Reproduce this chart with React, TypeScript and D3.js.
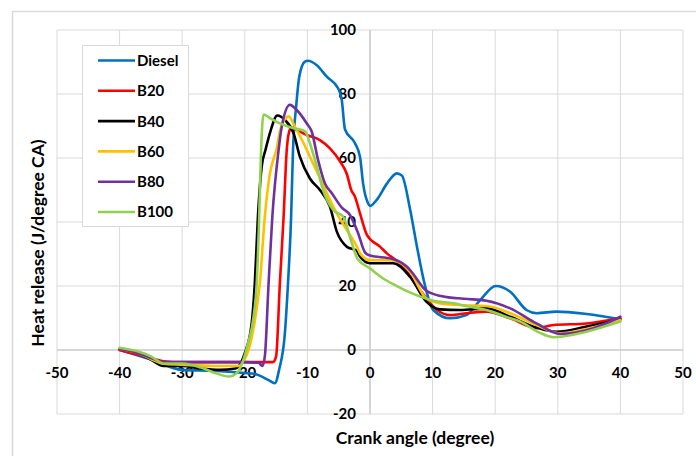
import React from "react";
import * as d3 from "d3";

const seriesNames = ["Diesel", "B20", "B40", "B60", "B80", "B100"];
const seriesColors = ["#0070C0", "#FF0000", "#000000", "#FFC000", "#7030A0", "#92D050"];

const diesel: [number, number][] = [
  [-40, 0], [-35, -3], [-30, -6.2], [-25, -6.5], [-20, -7.2], [-18.4, -7.5], [-16.2, -9.4], [-15.2, -10.4],
  [-14.5, -6], [-13.6, 5.2], [-13.1, 20.8], [-12.6, 41.7], [-12.3, 62.5], [-11.8, 76], [-11.3, 85.4],
  [-10.4, 90.1], [-9.9, 90.4], [-8.5, 89], [-6.9, 85.4], [-5.1, 81.8], [-4.5, 78], [-4, 69],
  [-2.4, 64.6], [-1.6, 60.4], [-1.1, 52], [-0.3, 45.8], [0, 45], [1.1, 47], [2.7, 52], [4.3, 55.2],
  [5.1, 54.5], [6.4, 44], [7.5, 32.3], [8.8, 20], [10.1, 12.5], [12.8, 9.9], [15.4, 10.9],
  [17.6, 15.6], [20.1, 20], [22.4, 18.2], [25, 12.5], [26.6, 11.5], [29.8, 12], [34.6, 11.25],
  [40, 9.6],
];

const b20: [number, number][] = [
  [-40, 0], [-37, -1.5], [-35, -2.5], [-33, -3.5], [-30, -3.8], [-25, -3.8], [-20, -3.8], [-15.5, -3.8],
  [-15, -2], [-14.4, 20.8], [-13.8, 41.7], [-13.3, 62.5], [-13, 67.5], [-12.6, 69.5], [-11.7, 68.8],
  [-10.1, 67.2], [-8, 65.6], [-6.4, 63], [-4.8, 59], [-3.7, 55], [-3.0, 50], [-2.4, 47.9],
  [-1.6, 42.7], [-0.5, 36], [1.6, 32.3], [2.7, 30.2], [4.8, 27], [5.5, 25.5], [7.5, 20], [8, 18.75],
  [10.7, 12.5], [12.8, 10.9], [15.5, 11.5], [18.6, 12], [22.4, 9.9], [26.6, 6.8], [29.3, 7.8],
  [34.6, 8.3], [40, 9.9],
];

const b40: [number, number][] = [
  [-40, 0.3], [-37, -1], [-35, -3], [-33, -5], [-30, -5], [-27, -5.8], [-24, -6.2], [-21.5, -5.8],
  [-20.5, -3.5], [-20, -1], [-18.9, 8.3], [-18.4, 20.8], [-17.9, 41.7], [-17.3, 57.3], [-16.7, 62.5],
  [-16, 67.7], [-14.8, 73.3], [-13.6, 71.9], [-12.2, 67.7], [-11.2, 60.4], [-9.6, 53.6], [-8, 50],
  [-6.4, 44.8], [-5.3, 37], [-3.7, 32.3], [-2.1, 31], [-1.6, 29.2], [0, 27.1], [3.7, 27.1],
  [6.4, 22.9], [9, 15.1], [11.2, 12.7], [14.4, 12.5], [18.6, 13], [22.4, 10.4], [26.6, 7],
  [29.8, 5.7], [34.6, 7.3], [40, 9.6],
];

const b60: [number, number][] = [
  [-40, 0.3], [-37, -1], [-35, -2.8], [-33, -4.3], [-30, -4.6], [-25, -5], [-21, -5], [-20.2, -3.5],
  [-19.4, 0], [-18.5, 8], [-17.6, 20.8], [-16.8, 41.7], [-16, 55], [-14.9, 63], [-14.3, 69], [-13, 73],
  [-12, 69.8], [-10.6, 64.6], [-9.6, 60.4], [-8.3, 55], [-6.9, 49], [-5.3, 42.7], [-3.7, 37.5],
  [-2.1, 32.3], [-1.6, 30.2], [0, 28.1], [3.7, 28], [6.4, 24.5], [9, 16.1], [11.7, 14.4],
  [15, 14], [18.6, 13.75], [22.4, 11.5], [26.6, 7.8], [30.4, 5.2], [35, 6.8], [40, 9.4],
];

const b80: [number, number][] = [
  [-40, 0.3], [-37, -1], [-35, -2.5], [-33, -3.8], [-30, -3.8], [-25, -3.8], [-20, -3.8],
  [-17.8, -4], [-17.2, -5], [-16.8, -2], [-16.2, 20.8], [-15.6, 41.7], [-14.6, 62.5], [-14.1, 69.8],
  [-12.8, 76.6], [-11.7, 75], [-10.1, 70.8], [-9.3, 68.2], [-8.3, 59.4], [-7.2, 52], [-6.1, 49],
  [-4.5, 44.5], [-3.2, 42.2], [-1.9, 36.5], [-0.8, 30.5], [0, 29.5], [3.5, 28.5], [5.9, 26],
  [6.6, 24.5], [9, 18.5], [11.5, 16.8], [15, 16], [18.6, 15.4], [22.4, 13], [26.6, 8.3],
  [30.4, 5], [35.7, 6.8], [40, 10.4],
];

const b100: [number, number][] = [
  [-40, 0.7], [-37, -0.5], [-35, -2], [-33, -4.2], [-30, -4.2], [-27, -5.5], [-25, -7],
  [-22.5, -8.3], [-21.2, -7], [-20.3, -3.5], [-19.5, 2], [-18.6, 10.4], [-18.1, 20.8], [-17.7, 41.7],
  [-17.4, 62.5], [-17, 73.6], [-16, 72.5], [-14.4, 70.8], [-12.2, 69.3], [-10.4, 68.4], [-9.6, 64.6],
  [-8.5, 57.3], [-7.5, 50], [-5.9, 43.8], [-4.3, 41.7], [-3, 34], [-2, 28.5], [0, 25.5],
  [2, 22.5], [4, 20.3], [6, 18.3], [8, 16.7], [10, 15.5], [13.3, 14.6], [16, 13.5], [18.6, 12.5],
  [22, 10.2], [24, 8.9], [27, 5.5], [29.3, 4], [33, 5], [36, 6.5], [40, 8.9],
];

const seriesData = [diesel, b20, b40, b60, b80, b100];

const xTicks = [-50, -40, -30, -20, -10, 0, 10, 20, 30, 40, 50];
const yTicks = [-20, 0, 20, 40, 60, 80, 100];

const W = 696;
const H = 456;
const FONT = "Lato, 'Open Sans', sans-serif";

export default function App() {
  const x = d3.scaleLinear().domain([-50, 50]).range([57, 683]);
  const y = d3.scaleLinear().domain([-20, 100]).range([414, 30]);
  const line = d3
    .line<[number, number]>()
    .x((d) => x(d[0]))
    .y((d) => y(d[1]))
    .curve(d3.curveMonotoneX);

  const grid = "#d9d9d9";

  return (
    <svg
      width={W}
      height={H}
      style={{ position: "absolute", left: 0, top: 0, background: "#fff" }}
      fontFamily={FONT}
    >
      <rect x={0} y={0} width={W} height={H} fill="#fff" />
      <rect x={12.5} y={11.5} width={W + 10} height={H + 10} fill="none" stroke={grid} strokeWidth={1.5} />
      {xTicks.map((t) => (
        <line key={"gx" + t} x1={x(t)} x2={x(t)} y1={y(100)} y2={y(-20)} stroke={grid} strokeWidth={1} />
      ))}
      {yTicks.map((t) => (
        <line key={"gy" + t} x1={x(-50)} x2={x(50)} y1={y(t)} y2={y(t)} stroke={grid} strokeWidth={1} />
      ))}
      <line x1={x(-50)} x2={x(50)} y1={y(0)} y2={y(0)} stroke="#d0d0d0" strokeWidth={1.6} />
      <line x1={x(0)} x2={x(0)} y1={y(100)} y2={y(-20)} stroke="#d0d0d0" strokeWidth={1.6} />
      {xTicks.map((t) => (
        <text key={"tx" + t} x={x(t)} y={y(0) + 27.5} textAnchor="middle" fontSize={15} fontWeight="bold" fill="#000">
          {t}
        </text>
      ))}
      {yTicks.map((t) => (
        <text
          key={"ty" + t}
          x={x(0) - 14}
          y={y(t)}
          dy="0.36em"
          textAnchor="end"
          fontSize={15}
          fontWeight="bold"
          fill="#000"
        >
          {t}
        </text>
      ))}
      {seriesData.map((d, i) => (
        <path
          key={seriesNames[i]}
          d={line(d) || ""}
          fill="none"
          stroke={seriesColors[i]}
          strokeWidth={2.6}
          strokeLinejoin="round"
          strokeLinecap="round"
        />
      ))}
      <rect x={82.5} y={45.5} width={106} height={181} fill="#fff" stroke={grid} strokeWidth={1} />
      {seriesNames.map((n, i) => {
        const cy = 60.5 + i * 30.3;
        return (
          <g key={"lg" + n}>
            <line x1={98} x2={135} y1={cy} y2={cy} stroke={seriesColors[i]} strokeWidth={2.6} />
            <text x={137} y={cy} dy="0.36em" fontSize={15} fontWeight="bold" fill="#000">
              {n}
            </text>
          </g>
        );
      })}
      <text x={415} y={444} textAnchor="middle" fontSize={17.5} fontWeight="bold" fill="#000">
        Crank angle (degree)
      </text>
      <text
        transform={`translate(44,243) rotate(-90)`}
        textAnchor="middle"
        fontSize={17.5}
        fontWeight="bold"
        fill="#000"
      >
        Heat release (J/degree CA)
      </text>
    </svg>
  );
}
